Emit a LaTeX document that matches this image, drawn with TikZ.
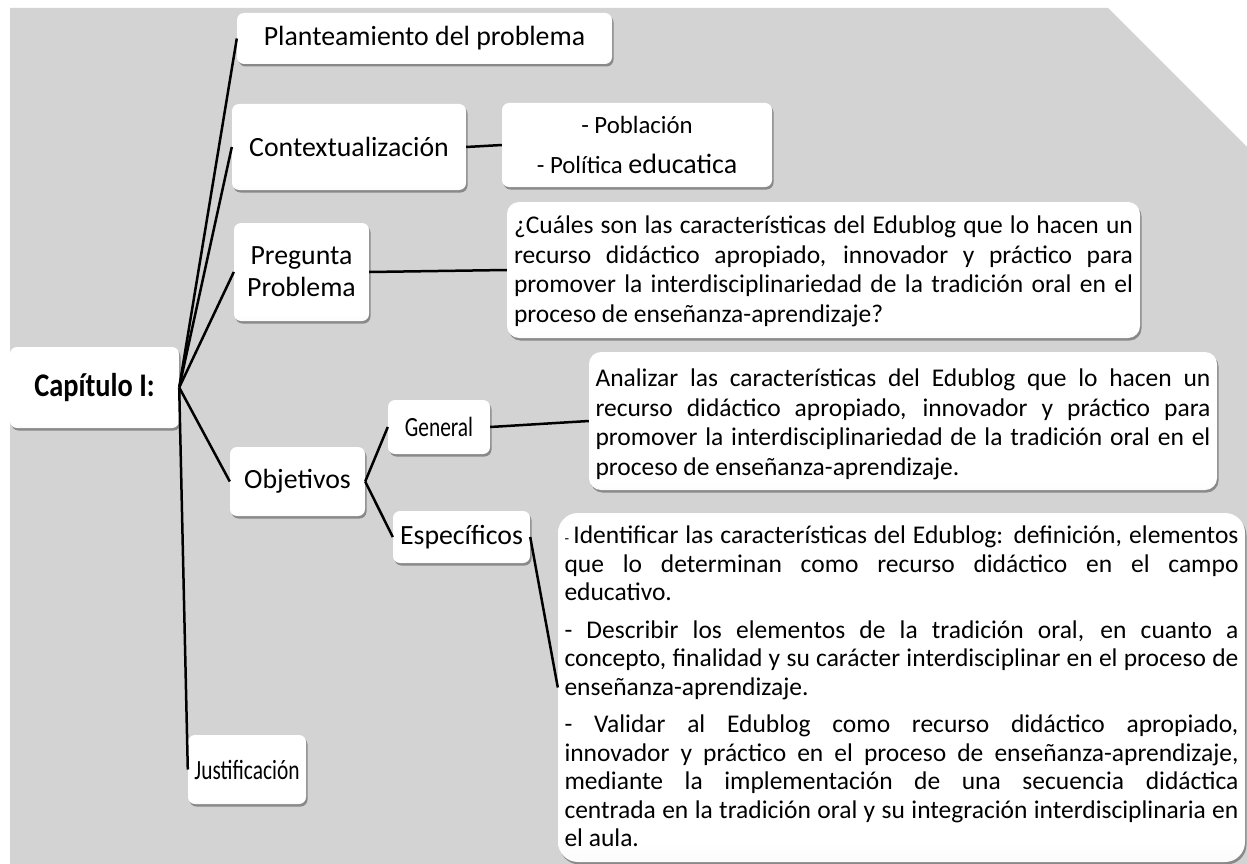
\documentclass[tikz,border=0pt]{standalone}
\usepackage{fontspec}
\usepackage{graphicx}
\setmainfont{Carlito}
\newfontfamily\capfont{Carlito}[FakeStretch=0.86]
\usetikzlibrary{shadows}
\definecolor{bggray}{RGB}{211,211,211}
\pgfdeclareverticalshading{glossy}{100bp}{color(0bp)=(black!13); color(28bp)=(white); color(100bp)=(white)}
\newcommand\justline[1]{\makebox[\linewidth][s]{\strut #1}\par}
\newcommand\lastline[1]{\strut #1\par}
\newcommand\narrowtext[1]{\scalebox{0.77}[1]{#1}}
\newcommand\paratext{\fontsize{25.5}{28.5}\selectfont}
\newcommand\paratextq{\fontsize{25.5}{29.5}\selectfont}
\tikzset{
  box/.style={draw=none, rounded corners=7pt, shading=glossy,
    drop shadow={shadow xshift=1.5pt, shadow yshift=-2.5pt, opacity=0.5, fill=black!75},
    inner sep=0pt, align=center, font=\fontsize{27.8}{32}\selectfont},
  parabox/.style={box, rounded corners=12pt, inner ysep=0pt},
  link/.style={line width=2.5pt, black},
}
\begin{document}
\begin{tikzpicture}[x=1pt,y=-1pt]
\useasboundingbox (0,0) rectangle (1247,864);
\fill[white] (0,0) rectangle (1247,864);
\fill[bggray] (10,8) -- (1108,8) -- (1247,147) -- (1247,864) -- (10,864) -- cycle;

% nodes
\node[box, minimum width=169pt, minimum height=81pt, font=\capfont\bfseries\fontsize{33}{38}\selectfont] (cap) at (94.5,387.5) {Capítulo I:};
\node[box, minimum width=375pt, minimum height=51pt] (plant) at (424.5,38.5) {Planteamiento del problema};
\node[box, minimum width=234pt, minimum height=86pt] (cont) at (349,147) {Contextualización};
\node[box, minimum width=270pt, minimum height=84pt, font=\fontsize{24.8}{40}\selectfont] (pob) at (637,145) {- Población\\- Política {\fontsize{28}{40}\selectfont educatica}};
\node[box, minimum width=135pt, minimum height=98pt, font=\fontsize{27.8}{32}\selectfont] (preg) at (301.5,272) {Pregunta\\Problema};
\node[parabox, inner xsep=7pt] (q) at (823.5,270) {\parbox[c][136pt][t]{619pt}{\paratextq\vspace*{11pt}%
\justline{¿Cuáles son las características del Edublog que lo hacen un}
\justline{recurso didáctico apropiado, innovador y práctico para}
\justline{promover la interdisciplinariedad de la tradición oral en el}
\lastline{proceso de enseñanza-aprendizaje?}}};
\node[box, minimum width=135pt, minimum height=69pt] (obj) at (297.5,481.5) {Objetivos};
\node[box, minimum width=102pt, minimum height=54pt] (gen) at (439,427) {\narrowtext{General}};
\node[box, minimum width=137pt, minimum height=52pt] (esp) at (461.5,537) {Específicos};
\node[parabox, inner xsep=6.5pt] (ana) at (903,421) {\parbox[c][138pt][t]{615pt}{\paratextq\vspace*{14pt}%
\justline{Analizar las características del Edublog que lo hacen un}
\justline{recurso didáctico apropiado, innovador y práctico para}
\justline{promover la interdisciplinariedad de la tradición oral en el}
\lastline{proceso de enseñanza-aprendizaje.}}};
\node[parabox, rounded corners=20pt, inner xsep=6.5pt] (ide) at (901.5,687.5) {\parbox[c][349pt][t]{674pt}{\paratext\vspace*{11pt}%
\justline{{\fontsize{15}{15}\selectfont -}\,Identificar las características del Edublog: definición, elementos}
\justline{que lo determinan como recurso didáctico en el campo}
\lastline{educativo.}
\vspace{9pt}
\justline{- Describir los elementos de la tradición oral, en cuanto a}
\justline{concepto, finalidad y su carácter interdisciplinar en el proceso de}
\lastline{enseñanza-aprendizaje.}
\vspace{9pt}
\justline{- Validar al Edublog como recurso didáctico apropiado,}
\justline{innovador y práctico en el proceso de enseñanza-aprendizaje,}
\justline{mediante la implementación de una secuencia didáctica}
\justline{centrada en la tradición oral y su integración interdisciplinaria en}
\lastline{el aula.}}};
\node[box, minimum width=118pt, minimum height=69pt] (jus) at (247,769.5) {\narrowtext{Justificación}};

% connectors
\draw[link] (cap.east) -- (plant.west);
\draw[link] (cap.east) -- (cont.west);
\draw[link] (cap.east) -- (preg.west);
\draw[link] (cap.east) -- (obj.west);
\draw[link] (cap.east) -- (jus.west);
\draw[link] (cont.east) -- (pob.west);
\draw[link] (preg.east) -- (q.west);
\draw[link] (obj.east) -- (gen.west);
\draw[link] (obj.east) -- (esp.west);
\draw[link] (gen.east) -- (ana.west);
\draw[link] (esp.east) -- (ide.west);
\end{tikzpicture}
\end{document}
